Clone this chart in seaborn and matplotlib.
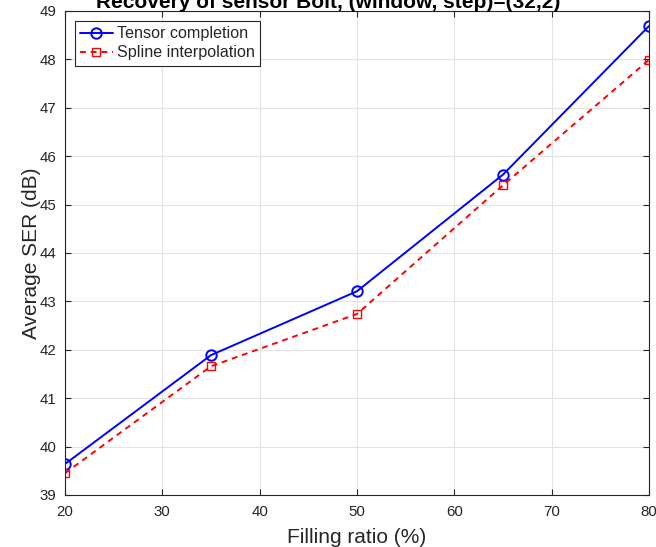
import matplotlib
matplotlib.use("Agg")
import matplotlib.pyplot as plt
import seaborn as sns
import pandas as pd

filling_ratio = [20, 35, 50, 65, 80]
tensor_completion = [39.64, 41.89, 43.21, 45.62, 48.69]
spline_interpolation = [39.45, 41.66, 42.74, 45.40, 47.99]
x_ticks = [20, 30, 40, 50, 60, 70, 80]
y_ticks = [39, 40, 41, 42, 43, 44, 45, 46, 47, 48, 49]

sns.set_style("whitegrid")
plt.rcParams["font.family"] = ["Liberation Sans", "DejaVu Sans"]

df = pd.DataFrame({
    "ratio": filling_ratio * 2,
    "ser": tensor_completion + spline_interpolation,
    "method": ["Tensor completion"] * 5 + ["Spline interpolation"] * 5,
})

fig = plt.figure(figsize=(6.56, 5.47), dpi=100)
ax = fig.add_axes([65 / 656, 52 / 547, 584 / 656, 484 / 547])

sns.lineplot(data=df[df.method == "Tensor completion"], x="ratio", y="ser",
             color="#0000ff", marker="o", markersize=7.5, markerfacecolor="none",
             markeredgecolor="#0000ff", markeredgewidth=1.4, linewidth=1.4,
             label="Tensor completion", ax=ax)
sns.lineplot(data=df[df.method == "Spline interpolation"], x="ratio", y="ser",
             color="#ff0000", marker="s", markersize=5.2, markerfacecolor="none",
             markeredgecolor="#ff0000", markeredgewidth=1.0, linewidth=1.4,
             linestyle=(0, (3, 2.5)), label="Spline interpolation", ax=ax)

ax.set_xlim(20, 80)
ax.set_ylim(39, 49)
ax.set_xticks(x_ticks)
ax.set_yticks(y_ticks)
ax.tick_params(axis="both", labelsize=10.8, colors="#262626", length=4,
               direction="in", bottom=True, left=True, top=True, right=True)
ax.tick_params(axis="x", pad=7)
ax.tick_params(axis="y", pad=6)
ax.grid(True, color="#e3e3e3", linewidth=0.8)
for s in ax.spines.values():
    s.set_color("#262626")
    s.set_linewidth(0.8)
ax.set_xlabel("Filling ratio (%)", fontsize=15, color="#262626", labelpad=7)
ax.set_ylabel("Average SER (dB)", fontsize=15, color="#262626", labelpad=-1)

leg = ax.legend(loc="upper left", fontsize=11.6, frameon=True, fancybox=False,
                edgecolor="#262626", framealpha=1, borderpad=0.35,
                handlelength=2.0, handletextpad=0.25, labelspacing=0.25,
                borderaxespad=0.6)
leg.get_frame().set_linewidth(0.8)

fig.text(0.5, 1 - 8 / 547, "Recovery of sensor Bolt, (window, step)=(32,2)",
         ha="center", va="baseline", fontsize=15, fontweight="bold",
         color="black")

fig.savefig("out.png", dpi=100)
